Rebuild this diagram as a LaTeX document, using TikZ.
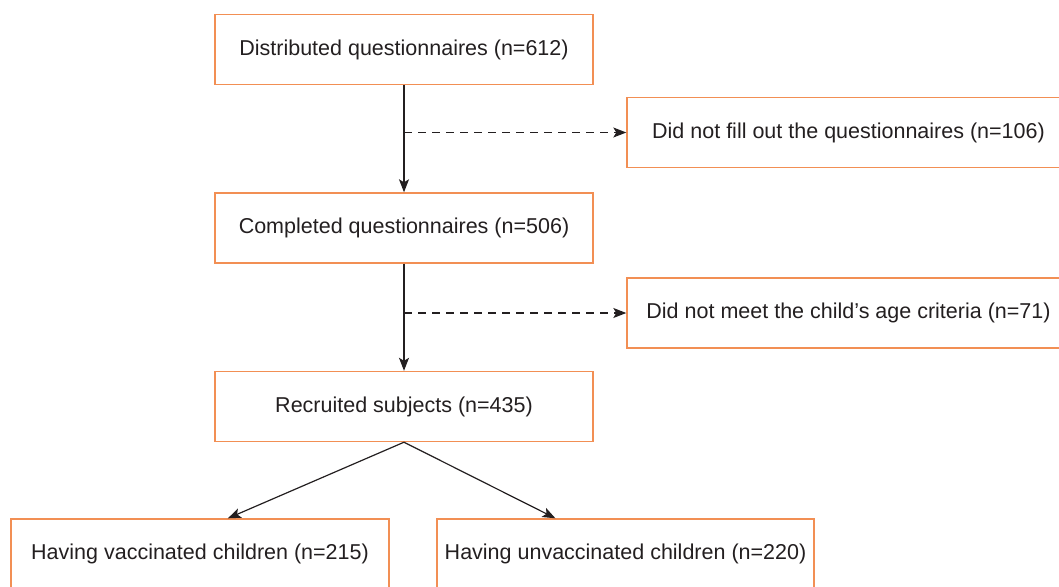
\documentclass[tikz,border=0pt]{standalone}
\usepackage{fontspec}
\setmainfont{Liberation Sans}
\usepackage{xcolor}
\usepackage{tikz}
\usetikzlibrary{arrows.meta}
\definecolor{boxorange}{RGB}{242,143,84}
\definecolor{inkgray}{RGB}{35,31,32}

\begin{document}
\begin{tikzpicture}[x=1pt,y=-1pt,
	stagebox/.style={draw=boxorange,line width=1.4pt,inner sep=0pt,minimum width=378pt,minimum height=70pt,text=inkgray,font=\fontsize{21.5}{26}\selectfont},
	dropbox/.style={stagebox,minimum width=443pt},
	flow/.style={line width=1.2pt,draw=inkgray,-{Stealth[length=13pt,width=10pt,inset=3pt]}},
	dropflow/.style={flow,dashed,dash pattern=on 8pt off 6pt}]
	\useasboundingbox (0,0) rectangle (1059,586);

	\node[stagebox] (distributed) at (404,49.5) {Distributed questionnaires (n=612)};
	\node[dropbox] (nofill) at (848.5,132.5) {Did not fill out the questionnaires (n=106)};
	\node[stagebox] (completed) at (404,228) {Completed questionnaires (n=506)};
	\node[dropbox] (agecrit) at (848.5,313) {Did not meet the child’s age criteria (n=71)};
	\node[stagebox] (recruited) at (404,406.5) {Recruited subjects (n=435)};
	\node[stagebox] (vacc) at (200,554) {Having vaccinated children (n=215)};
	\node[stagebox,minimum width=377pt] (unvacc) at (625.5,554) {Having unvaccinated children (n=220)};

\draw[flow] (distributed) -- (completed);
\draw[flow] (completed) -- (recruited);
\draw[dropflow] (distributed.south |- nofill) -- (nofill);
\draw[dropflow] (completed.south |- agecrit) -- (agecrit);
\draw[flow] (recruited.south) -- (vacc.52);
\draw[flow] (recruited.south) -- (unvacc.153);
\end{tikzpicture}
\end{document}
